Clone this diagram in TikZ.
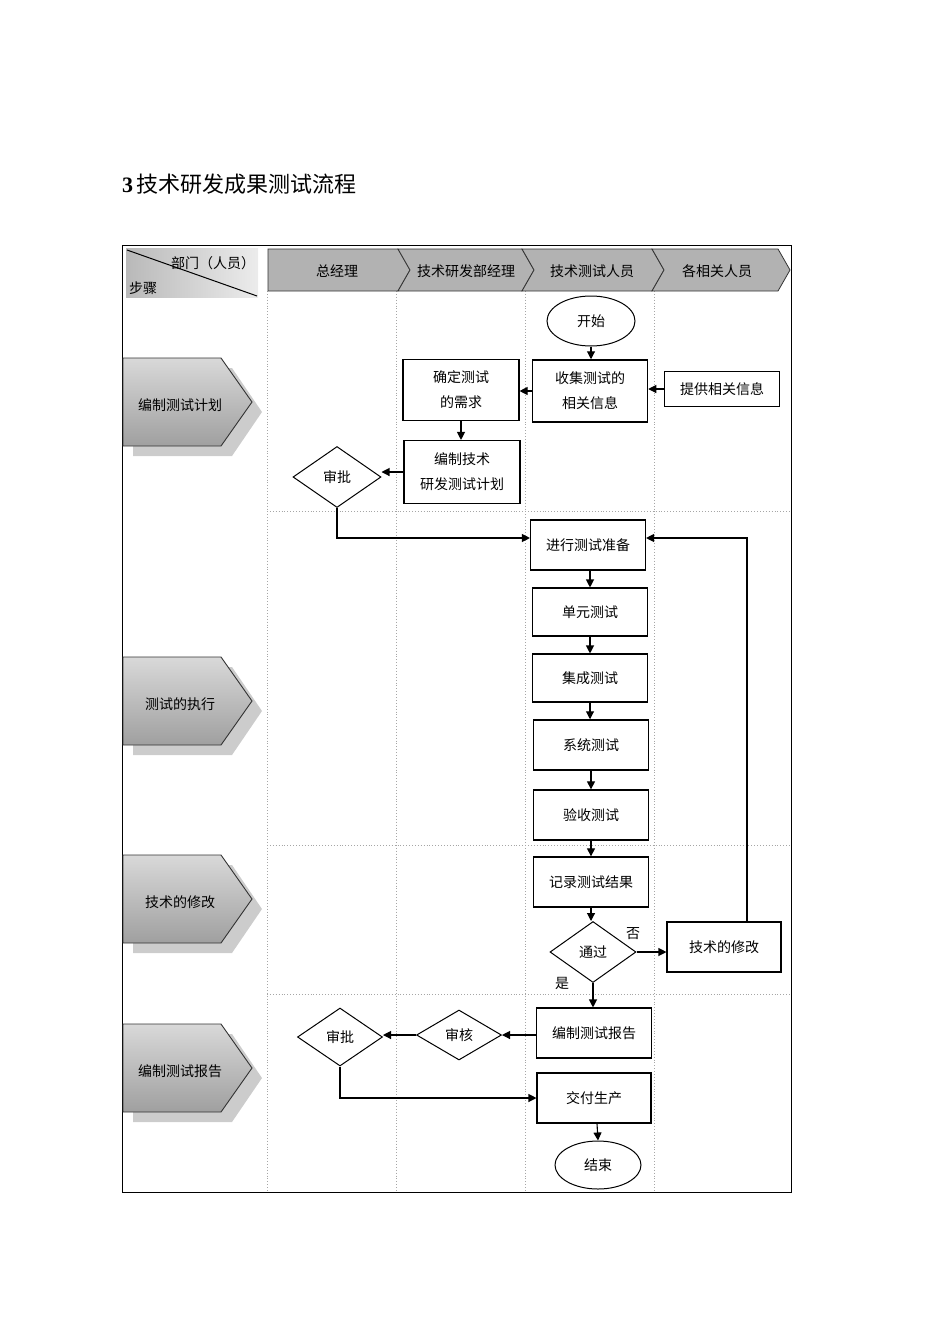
\documentclass[tikz,border=0pt]{standalone}
\usepackage{fontspec}
\setmainfont{Noto Sans CJK SC}
\newfontfamily\numfont{Liberation Serif}
\usetikzlibrary{shapes.geometric,arrows.meta}
\begin{document}
\begin{tikzpicture}[x=1pt,y=-1pt,
  box/.style={draw,line width=1.1pt,minimum width=115pt,minimum height=50pt,align=center,inner sep=1pt,font=\fontsize{14}{25}\selectfont},
  dia/.style={draw,diamond,line width=1pt,inner sep=0pt,font=\fontsize{14}{16}\selectfont},
  term/.style={draw,ellipse,line width=1pt,inner sep=0pt,font=\fontsize{14}{16}\selectfont},
  arr/.style={-{Triangle[length=8pt,width=8pt]},line width=1.1pt},
  lane/.style={gray!70,dotted,line width=0.9pt},
  lbl/.style={font=\fontsize{14}{16}\selectfont,inner sep=0pt},
  hdr/.style={font=\fontsize{14}{16}\selectfont,inner sep=0pt},
  chev/.style={draw=black!80,line width=0.8pt,top color=gray!60,middle color=gray!8,bottom color=gray!60},
  stepshape/.style={draw=black!80,line width=0.9pt,top color=gray!30,middle color=gray!10,bottom color=gray!75},
  stepshadow/.style={fill=gray!40}
]
\useasboundingbox (0,0) rectangle (950,1344);

% title
\node[anchor=base west,inner sep=0pt,font=\fontsize{22}{26}\selectfont] (title) at (122,192) {{\numfont\bfseries 3}\,技术研发成果测试流程};

% frame
\draw[line width=0.8pt] (122,245) rectangle (791,1192);

% lanes
\foreach \x in {267,396,525,654} \draw[lane] (\x,291) -- (\x,1192);
\foreach \y in {511,845,994} \draw[lane] (267,\y) -- (791,\y);

% corner box
\shade[left color=gray!55,right color=gray!15] (126,248) rectangle (258,297);
\draw[line width=1pt] (127,250) -- (257,296);
\node[hdr] (dept) at (213,263) {部门（人员）};
\node[hdr] (steps) at (143,288) {步骤};

% header chevrons
\draw[chev] (268,249) -- (398,249) -- (410,270) -- (398,291) -- (268,291) -- cycle;
\draw[chev] (398,249) -- (522,249) -- (534,270) -- (522,291) -- (398,291) -- (410,270) -- cycle;
\draw[chev] (522,249) -- (652,249) -- (664,270) -- (652,291) -- (522,291) -- (534,270) -- cycle;
\draw[chev] (652,249) -- (778,249) -- (790,270) -- (778,291) -- (652,291) -- (664,270) -- cycle;
\node[hdr] (h1) at (337,271) {总经理};
\node[hdr] (h2) at (466,271) {技术研发部经理};
\node[hdr] (h3) at (592,271) {技术测试人员};
\node[hdr] (h4) at (717,271) {各相关人员};

% step shapes
\foreach \y/\txt [count=\i] in {358/编制测试计划,657/测试的执行,855/技术的修改,1024/编制测试报告}{
  \fill[stepshadow] (133,\y+10) -- (232,\y+10) -- (262,\y+54) -- (232,\y+98) -- (133,\y+98) -- cycle;
  \draw[stepshape] (123,\y) -- (221,\y) -- (252,\y+44) -- (221,\y+88) -- (123,\y+88) -- cycle;
  \node[lbl] (step\i) at (180,\y+47) {\txt};
}

% nodes
\node[term,minimum width=88pt,minimum height=50pt] (start) at (591,321) {开始};
\node[box,line width=1.5pt,minimum height=62pt] (collect) at (590,391) {收集测试的\\相关信息};
\node[box,minimum width=116pt,minimum height=61pt] (req) at (461,390) {确定测试\\的需求};
\node[box,minimum width=115pt,minimum height=35pt] (info) at (722,389) {提供相关信息};
\node[box,minimum width=116pt,minimum height=63pt] (plan) at (462,472) {编制技术\\研发测试计划};
\node[dia,minimum width=88pt,minimum height=61pt] (appr1) at (337,477) {审批};

\node[box] (prep) at (588,545) {进行测试准备};
\node[box,minimum height=48pt] (unit) at (590,612) {单元测试};
\node[box,minimum height=48pt] (integ) at (590,678) {集成测试};
\node[box,line width=1.5pt] (sys) at (591,745) {系统测试};
\node[box,line width=1.3pt] (accept) at (591,815) {验收测试};
\node[box,line width=1.3pt] (record) at (591,882) {记录测试结果};
\node[dia,minimum width=86pt,minimum height=61pt] (pass) at (593,952) {通过};
\node[box,minimum width=114pt] (fix) at (724,947) {技术的修改};
\node[lbl] (no) at (633,934) {否};
\node[lbl] (yes) at (562,983) {是};

\node[box,minimum width=115pt] (report) at (594,1033) {编制测试报告};
\node[dia,minimum width=85pt,minimum height=50pt] (review) at (459,1035) {审核};
\node[dia,minimum width=85pt,minimum height=58pt] (appr2) at (340,1037) {审批};
\node[box,minimum width=114pt] (deliver) at (594,1098) {交付生产};
\node[term,minimum width=86pt,minimum height=48pt] (end) at (598,1165) {结束};

% connectors
\draw[arr] (start.south) -- (start.south |- collect.north);
\draw[arr] (collect.west) -- (collect.west -| req.east);
\draw[arr] (info.west) -- (info.west -| collect.east);
\draw[arr] (req.south) -- (req.south |- plan.north);
\draw[arr] (plan.west) -- (plan.west -| appr1.east);
\draw[arr] (appr1.south) |- ([yshift=7pt]prep.west);
\draw[arr] ([xshift=23pt]fix.north) |- ([yshift=7pt]prep.east);
\draw[arr] (prep.south -| unit.north) -- (unit.north);
\draw[arr] (unit.south) -- (integ.north);
\draw[arr] (integ.south) -- (integ.south |- sys.north);
\draw[arr] (sys.south) -- (accept.north);
\draw[arr] (accept.south) -- (record.north);
\draw[arr] (record.south) -- (record.south |- pass.north);
\draw[arr] (pass.east) -- (pass.east -| fix.west);
\draw[arr] (pass.south) -- (pass.south |- report.north);
\draw[arr] (report.west |- review.east) -- (review.east);
\draw[arr] (review.west) -- (review.west -| appr2.east);
\draw[arr] (appr2.south) |- (deliver.west);
\draw[arr] ([xshift=3pt]deliver.south) -- (end.north);
\end{tikzpicture}
\end{document}
